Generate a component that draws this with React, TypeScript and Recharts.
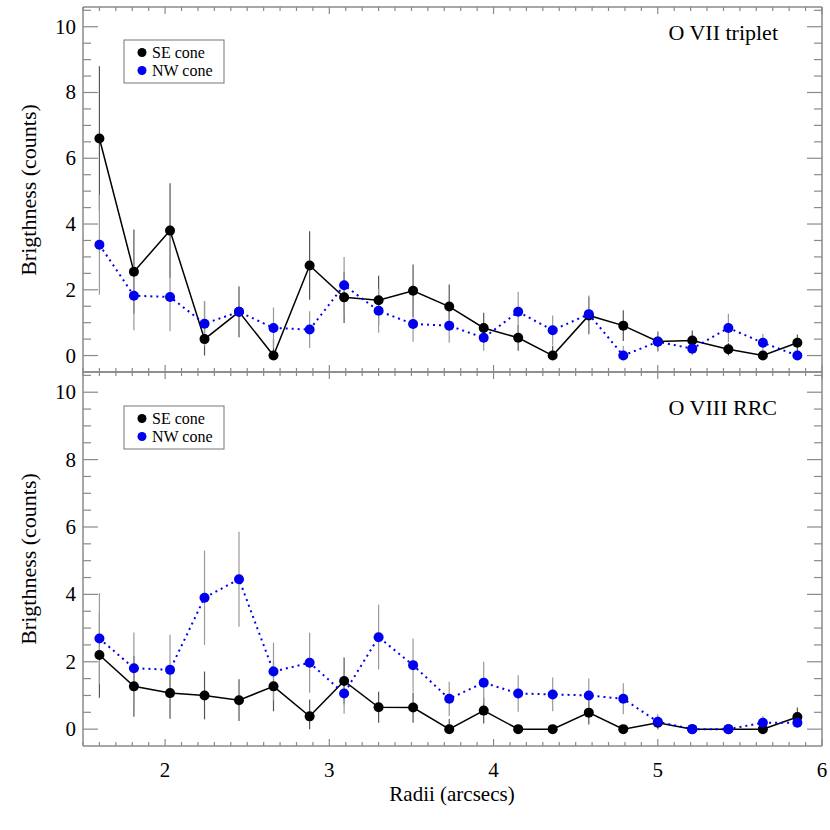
import { LineChart, Line, XAxis, YAxis, ErrorBar } from 'recharts';

// radii of the annuli (arcsec)
const RADII = [1.6, 1.81, 2.03, 2.24, 2.45, 2.66, 2.88, 3.09, 3.3, 3.51, 3.73, 3.94, 4.15, 4.36, 4.58, 4.79, 5.0, 5.21, 5.43, 5.64, 5.85];

// O VII triplet
const O7_SE = [6.6, 2.55, 3.8, 0.5, 1.33, 0, 2.74, 1.77, 1.68, 1.97, 1.49, 0.84, 0.54, 0, 1.22, 0.91, 0.43, 0.46, 0.19, 0, 0.39];
const O7_SE_ERR = [2.2, 1.28, 1.44, 1.16, 0.77, 0.5, 1.04, 0.78, 0.75, 0.8, 0.67, 0.46, 0.39, 0.3, 0.57, 0.47, 0.3, 0.3, 0.19, 0, 0.25];
const O7_NW = [3.37, 1.82, 1.78, 0.97, 1.33, 0.84, 0.79, 2.14, 1.36, 0.96, 0.91, 0.54, 1.33, 0.77, 1.26, 0, 0.42, 0.21, 0.84, 0.39, 0];
const O7_NW_ERR = [1.52, 1.05, 1.04, 0.69, 0.77, 0.62, 0.56, 0.86, 0.67, 0.54, 0.52, 0.39, 0.61, 0.45, 0.57, 0.3, 0.3, 0.2, 0.43, 0.27, 0];

// O VIII RRC
const O8_SE = [2.2, 1.27, 1.07, 1.0, 0.86, 1.27, 0.38, 1.43, 0.65, 0.64, 0, 0.55, 0, 0, 0.49, 0, 0.19, 0, 0, 0, 0.36];
const O8_SE_ERR = [1.27, 0.9, 0.76, 0.71, 0.62, 0.74, 0.5, 0.7, 0.46, 0.45, 0.3, 0.38, 0, 0, 0.35, 0, 0.2, 0, 0, 0, 0.28];
const O8_NW = [2.69, 1.81, 1.76, 3.9, 4.45, 1.71, 1.97, 1.06, 2.73, 1.9, 0.9, 1.38, 1.06, 1.03, 1.0, 0.9, 0.22, 0, 0, 0.19, 0.19];
const O8_NW_ERR = [1.35, 1.06, 1.04, 1.4, 1.41, 0.86, 0.89, 0.6, 0.96, 0.79, 0.51, 0.62, 0.54, 0.5, 0.5, 0.46, 0.22, 0, 0, 0.2, 0.14];

const X_MAJOR = [2, 3, 4, 5, 6];
const Y_MAJOR = [0, 2, 4, 6, 8, 10];

const X_TICKS = Array.from({ length: 46 }, (_, i) => +(1.5 + i * 0.1).toFixed(1));
const Y_TICKS = Array.from({ length: 22 }, (_, i) => i * 0.5);

const FONT = "'Liberation Serif', 'Times New Roman', serif";
const AXIS = '#8a8a8a';
const BLUE = '#0000ee';

// error bars are cut at zero
const build = (se: number[], seErr: number[], nw: number[], nwErr: number[]) =>
  RADII.map((r, i) => ({
    r,
    se: se[i],
    seErr: [Math.min(seErr[i], se[i]), seErr[i]],
    nw: nw[i],
    nwErr: [Math.min(nwErr[i], nw[i]), nwErr[i]],
  }));

const o7Data = build(O7_SE, O7_SE_ERR, O7_NW, O7_NW_ERR);
const o8Data = build(O8_SE, O8_SE_ERR, O8_NW, O8_NW_ERR);

const near = (v: number, list: number[]) => list.some((m) => Math.abs(m - v) < 1e-6);

function XTick(props: any) {
  const { x, y, payload, side, label } = props;
  const major = near(payload.value, X_MAJOR);
  const len = major ? 7 : 4;
  const dir = side === 'bottom' ? -1 : 1;
  return (
    <g>
      <line x1={x} x2={x} y1={y} y2={y + dir * len} stroke={AXIS} strokeWidth={1.2} />
      {label && major && (
        <text x={x} y={y + 31} textAnchor="middle" fontSize={21} fontFamily={FONT} fill="#000">
          {payload.value}
        </text>
      )}
    </g>
  );
}

function YTick(props: any) {
  const { x, y, payload, side, label } = props;
  const major = near(payload.value, Y_MAJOR);
  const len = major ? 15 : 8;
  const dir = side === 'left' ? 1 : -1;
  return (
    <g>
      <line x1={x} x2={x + dir * len} y1={y} y2={y} stroke={AXIS} strokeWidth={1.2} />
      {label && major && (
        <text x={x - 7} y={y + 7} textAnchor="end" fontSize={21} fontFamily={FONT} fill="#000">
          {payload.value}
        </text>
      )}
    </g>
  );
}

function Panel({ data, height, margin, labels }: { data: any[]; height: number; margin: any; labels: boolean }) {
  const axisLine = { stroke: AXIS, strokeWidth: 1.5 };
  return (
    <LineChart width={830} height={height} data={data} margin={margin}>
      <XAxis
        dataKey="r"
        type="number"
        domain={[1.5, 6]}
        allowDataOverflow
        ticks={X_TICKS}
        interval={0}
        height={1}
        tickSize={0}
        tickMargin={0}
        axisLine={axisLine}
        tick={(p: any) => <XTick {...p} side="bottom" label={labels} />}
      />
      <XAxis
        xAxisId="top"
        orientation="top"
        dataKey="r"
        type="number"
        domain={[1.5, 6]}
        allowDataOverflow
        ticks={X_TICKS}
        interval={0}
        height={1}
        tickSize={0}
        tickMargin={0}
        axisLine={axisLine}
        tick={(p: any) => <XTick {...p} side="top" />}
      />
      <YAxis
        type="number"
        domain={[-0.5, 10.6]}
        allowDataOverflow
        ticks={Y_TICKS}
        interval={0}
        width={83}
        tickSize={0}
        tickMargin={0}
        axisLine={axisLine}
        tick={(p: any) => <YTick {...p} side="left" label />}
      />
      <YAxis
        yAxisId="right"
        orientation="right"
        type="number"
        domain={[-0.5, 10.6]}
        allowDataOverflow
        ticks={Y_TICKS}
        interval={0}
        width={1}
        tickSize={0}
        tickMargin={0}
        axisLine={axisLine}
        tick={(p: any) => <YTick {...p} side="right" />}
      />
      <Line
        dataKey="se"
        stroke="#000"
        strokeWidth={1.5}
        dot={{ r: 5, fill: '#000', stroke: 'none' }}
        isAnimationActive={false}
      >
        <ErrorBar dataKey="seErr" direction="y" width={0} stroke="#555" strokeWidth={1.2} />
      </Line>
      <Line
        dataKey="nw"
        stroke={BLUE}
        strokeWidth={2}
        strokeDasharray="2 4"
        dot={{ r: 5, fill: BLUE, stroke: 'none', strokeDasharray: '' }}
        isAnimationActive={false}
      >
        <ErrorBar dataKey="nwErr" direction="y" width={0} stroke="#999" strokeWidth={1.2} />
      </Line>
    </LineChart>
  );
}

function LegendBox({ x, y }: { x: number; y: number }) {
  return (
    <g>
      <rect x={x} y={y} width={100} height={43} fill="#fff" stroke="#777" strokeWidth={1} />
      <circle cx={x + 18} cy={y + 12.5} r={4.5} fill="#000" />
      <text x={x + 28} y={y + 17.5} fontSize={16} fontFamily={FONT}>SE cone</text>
      <circle cx={x + 18} cy={y + 30.5} r={4.5} fill={BLUE} />
      <text x={x + 28} y={y + 35.5} fontSize={16} fontFamily={FONT}>NW cone</text>
    </g>
  );
}

export default function App() {
  return (
    <div style={{ position: 'absolute', left: 0, top: 0, width: 830, height: 830, background: '#fff' }}>
      <div style={{ position: 'absolute', left: 0, top: 0 }}>
        <Panel data={o7Data} height={380} margin={{ top: 6, right: 7, bottom: 7, left: 0 }} labels={false} />
      </div>
      <div style={{ position: 'absolute', left: 0, top: 360 }}>
        <Panel data={o8Data} height={470} margin={{ top: 11, right: 7, bottom: 83, left: 0 }} labels />
      </div>
      <svg width={830} height={830} style={{ position: 'absolute', left: 0, top: 0, pointerEvents: 'none' }}>
        <LegendBox x={124} y={40} />
        <LegendBox x={124} y={406} />
        <text x={778} y={40} textAnchor="end" fontSize={22} fontFamily={FONT}>O VII triplet</text>
        <text x={777} y={415} textAnchor="end" fontSize={22} fontFamily={FONT}>O VIII RRC</text>
        <text x={452} y={801} textAnchor="middle" fontSize={21} fontFamily={FONT}>Radii (arcsecs)</text>
        <text transform="translate(36,190) rotate(-90)" textAnchor="middle" fontSize={22} fontFamily={FONT}>
          Brigthness (counts)
        </text>
        <text transform="translate(36,559) rotate(-90)" textAnchor="middle" fontSize={22} fontFamily={FONT}>
          Brigthness (counts)
        </text>
      </svg>
    </div>
  );
}
